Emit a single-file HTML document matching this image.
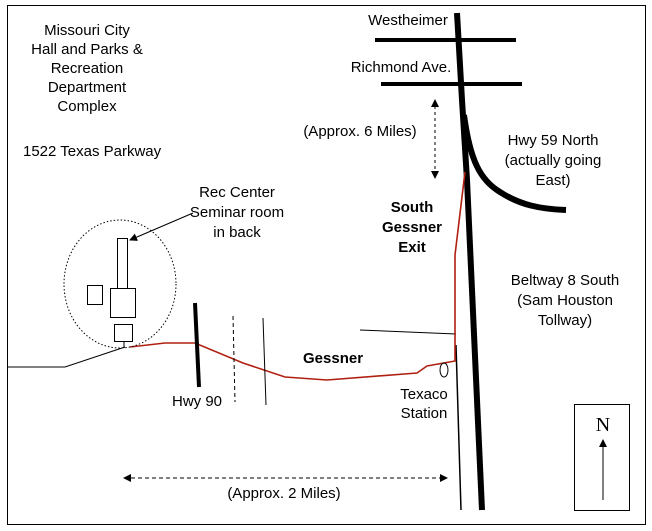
<!DOCTYPE html>
<html><head><meta charset="utf-8"><style>
html,body{margin:0;padding:0;background:#fff;}
svg{display:block;}
text{font-family:"Liberation Sans",sans-serif;font-size:15px;fill:#000;}
.b{font-weight:bold;}
</style></head><body>
<svg width="652" height="531" viewBox="0 0 652 531" xmlns="http://www.w3.org/2000/svg">
<defs>
<marker id="ah" markerWidth="8" markerHeight="8" refX="7" refY="4" orient="auto" markerUnits="userSpaceOnUse">
<path d="M0,0 L8,4 L0,8 Z" fill="#000"/></marker>
<marker id="ahs" markerWidth="8" markerHeight="8" refX="1" refY="4" orient="auto" markerUnits="userSpaceOnUse">
<path d="M8,0 L0,4 L8,8 Z" fill="#000"/></marker>
</defs>
<rect x="7.5" y="5.5" width="638" height="519" fill="none" stroke="#000" stroke-width="1"/>

<line x1="375" y1="40" x2="516" y2="40" stroke="#000" stroke-width="4"/>
<line x1="381" y1="84" x2="522" y2="84" stroke="#000" stroke-width="4"/>
<polyline points="457,13 462,100 467,180 482,510" fill="none" stroke="#000" stroke-width="6"/>
<path d="M464,115 C470,160 480,180 500,192 C520,205 540,209 566,210" fill="none" stroke="#000" stroke-width="6"/>
<line x1="456" y1="345" x2="461" y2="510" stroke="#000" stroke-width="1.5"/>
<line x1="360" y1="330" x2="456" y2="334" stroke="#000" stroke-width="1"/>
<polyline points="465,172 455,255 455,361 427,366 417,373 327,380 285,377 243,363 195,343 165,343 130,347" fill="none" stroke="#b02010" stroke-width="1.6"/>
<polyline points="8,367 65,367 125,347" fill="none" stroke="#000" stroke-width="1"/>
<line x1="124" y1="341" x2="124" y2="348" stroke="#000" stroke-width="1"/>
<line x1="195" y1="303" x2="199" y2="387" stroke="#000" stroke-width="4"/>
<line x1="233" y1="316" x2="235" y2="402" stroke="#000" stroke-width="1" stroke-dasharray="4,3"/>
<line x1="263" y1="318" x2="266" y2="405" stroke="#000" stroke-width="1"/>
<ellipse cx="120" cy="284" rx="56" ry="64" fill="none" stroke="#000" stroke-width="1" stroke-dasharray="1.5,2"/>
<rect x="117.5" y="238.5" width="10" height="50" fill="#fff" stroke="#000"/>
<rect x="110.5" y="288.5" width="25" height="29" fill="#fff" stroke="#000"/>
<rect x="87.5" y="285.5" width="15" height="19" fill="#fff" stroke="#000"/>
<rect x="114.5" y="324.5" width="18" height="17" fill="#fff" stroke="#000"/>
<line x1="193" y1="213" x2="130" y2="240" stroke="#000" stroke-width="1" marker-end="url(#ah)"/>
<ellipse cx="444" cy="370" rx="4" ry="7" fill="none" stroke="#000" stroke-width="1"/>
<line x1="435" y1="100" x2="435" y2="178" stroke="#000" stroke-width="1" stroke-dasharray="3,3" marker-start="url(#ahs)" marker-end="url(#ah)"/>
<line x1="124" y1="478" x2="447" y2="478" stroke="#000" stroke-width="1" stroke-dasharray="4,3" marker-start="url(#ahs)" marker-end="url(#ah)"/>
<rect x="574.5" y="404.5" width="55" height="106" fill="none" stroke="#000"/>
<text x="603" y="431" text-anchor="middle" style="font-family:'Liberation Serif',serif;font-size:20px">N</text>
<line x1="603" y1="500" x2="603" y2="440" stroke="#000" stroke-width="1" marker-end="url(#ah)"/>

<text x="87" y="35" text-anchor="middle">Missouri City</text>
<text x="87" y="54" text-anchor="middle">Hall and Parks &amp;</text>
<text x="87" y="73" text-anchor="middle">Recreation</text>
<text x="87" y="92" text-anchor="middle">Department</text>
<text x="87" y="111" text-anchor="middle">Complex</text>
<text x="23" y="156">1522 Texas Parkway</text>
<text x="237" y="197" text-anchor="middle">Rec Center</text>
<text x="237" y="217" text-anchor="middle">Seminar room</text>
<text x="237" y="237" text-anchor="middle">in back</text>
<text x="408" y="25" text-anchor="middle">Westheimer</text>
<text x="401" y="72" text-anchor="middle">Richmond Ave.</text>
<text x="360" y="136" text-anchor="middle">(Approx. 6  Miles)</text>
<text x="553" y="145" text-anchor="middle">Hwy 59 North</text>
<text x="553" y="165" text-anchor="middle">(actually going</text>
<text x="553" y="185" text-anchor="middle">East)</text>
<text x="412" y="212" text-anchor="middle" class="b">South</text>
<text x="412" y="232" text-anchor="middle" class="b">Gessner</text>
<text x="412" y="252" text-anchor="middle" class="b">Exit</text>
<text x="565" y="285" text-anchor="middle">Beltway 8 South</text>
<text x="565" y="305" text-anchor="middle">(Sam Houston</text>
<text x="565" y="325" text-anchor="middle">Tollway)</text>
<text x="303" y="363" class="b">Gessner</text>
<text x="172" y="406">Hwy 90</text>
<text x="424" y="399" text-anchor="middle">Texaco</text>
<text x="424" y="418" text-anchor="middle">Station</text>
<text x="284" y="498" text-anchor="middle">(Approx. 2  Miles)</text>
</svg>
</body></html>
